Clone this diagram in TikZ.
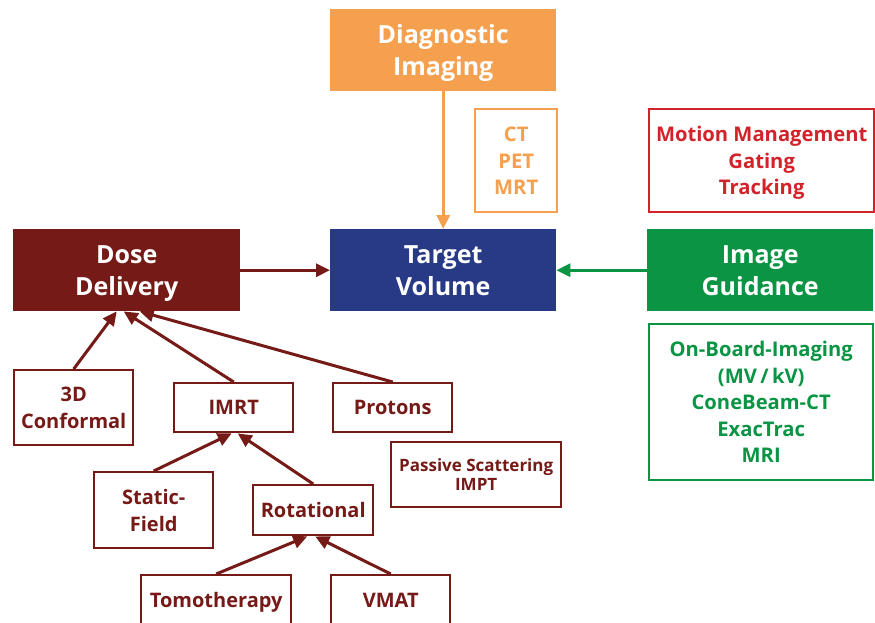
\documentclass[tikz,border=0pt]{standalone}
\usepackage{fontspec}
\setmainfont{Open Sans}
\usetikzlibrary{arrows.meta}
\definecolor{dred}{HTML}{751A16}
\definecolor{navy}{HTML}{283A85}
\definecolor{orng}{HTML}{F4A04E}
\definecolor{grn}{HTML}{0A9444}
\definecolor{mred}{HTML}{D2232A}
\tikzset{
  big/.style={font=\bfseries\fontsize{25}{32}\selectfont, text=white, align=center, inner sep=0pt, text depth=0pt, anchor=north west},
  sub/.style={draw=dred, line width=2.4pt, text=dred, font=\bfseries\fontsize{20}{27}\selectfont, align=center, inner sep=0pt, text depth=0pt, anchor=north west},
  lst/.style={line width=2.4pt, font=\bfseries\fontsize{20.2}{26.5}\selectfont, align=center, inner sep=0pt, text depth=0pt, anchor=north west},
  con/.style={line width=3pt, -{Triangle[length=14pt,width=13pt]}},
}
\begin{document}
\begin{tikzpicture}[x=1pt,y=-1pt]
\useasboundingbox (0,0) rectangle (875,622);
\fill[white] (0,0) rectangle (875,622);
% main boxes
\node[big, fill=orng, minimum width=226pt, minimum height=82pt] (diag) at (330,9) {Diagnostic\\Imaging};
\node[big, fill=dred, minimum width=227pt, minimum height=82pt] (dose) at (13,229) {Dose\\Delivery};
\node[big, fill=navy, minimum width=226pt, minimum height=82pt] (target) at (330,229) {Target\\Volume};
\node[big, fill=grn, minimum width=226pt, minimum height=82pt] (ig) at (647,229) {Image\\Guidance};
% lists
\node[lst, draw=orng, text=orng, minimum width=82pt, minimum height=103pt] (ct) at (474,108) {CT\\PET\\MRT};
\node[lst, draw=mred, text=mred, minimum width=225pt, minimum height=103pt] (motion) at (648,108) {Motion Management\\Gating\\Tracking};
\node[lst, draw=grn, text=grn, minimum width=224pt, minimum height=156pt] (obi) at (648,323) {On-Board-Imaging\\(MV\,/\,kV)\\ConeBeam-CT\\ExacTrac\\MRI};
% dose subtree
\node[sub, minimum width=119pt, minimum height=75pt] (conf) at (13,369) {3D\\Conformal};
\node[sub, minimum width=119pt, minimum height=49pt] (imrt) at (173,382) {IMRT};
\node[sub, minimum width=119pt, minimum height=49pt] (prot) at (332,382) {Protons};
\node[sub, font=\bfseries\fontsize{17}{19}\selectfont, minimum width=170pt, minimum height=65pt] (pass) at (390,441) {Passive Scattering\\IMPT};
\node[sub, minimum width=119pt, minimum height=76pt] (stat) at (93,471) {Static-\\Field};
\node[sub, minimum width=120pt, minimum height=50pt] (rot) at (252,484) {Rotational};
\node[sub, minimum width=150pt, minimum height=70pt, text depth=20pt] (tomo) at (140,574) {Tomotherapy};
\node[sub, minimum width=119pt, minimum height=70pt, text depth=20pt] (vmat) at (330,574) {VMAT};
% connectors
\draw[con, orng] (diag.south) -- (target.north);
\draw[con, dred] (dose.east) -- (target.west);
\draw[con, grn] (ig.west) -- (target.east);
\draw[con, dred] (conf.north) -- ([xshift=-10pt]dose.south);
\draw[con, dred] (imrt.north) -- ([xshift=-3pt]dose.south);
\draw[con, dred] (prot.north) -- ([xshift=13pt]dose.south);
\draw[con, dred] (stat.north) -- ([xshift=-2pt]imrt.south);
\draw[con, dred] (rot.north) -- ([xshift=4pt]imrt.south);
\draw[con, dred] (tomo.north) -- ([xshift=-6pt]rot.south);
\draw[con, dred] (vmat.north) -- ([xshift=2pt]rot.south);
\end{tikzpicture}
\end{document}
